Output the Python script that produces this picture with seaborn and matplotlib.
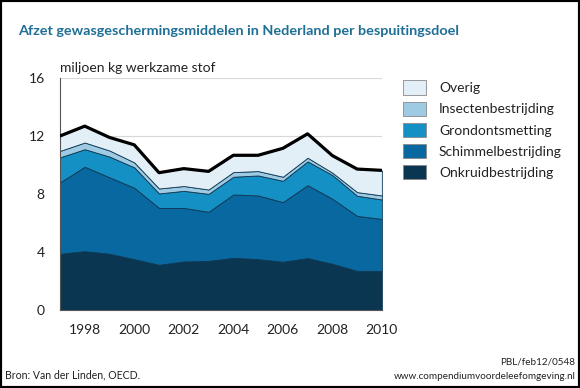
import numpy as np
import pandas as pd
import matplotlib.pyplot as plt
import seaborn as sns
from matplotlib.patches import Rectangle

years = list(range(1997, 2011))

# layer values in miljoen kg werkzame stof (read off the chart, not cumulative)
onkruid = [3.88, 4.06, 3.88, 3.51, 3.12, 3.35, 3.39, 3.60, 3.51, 3.33, 3.58, 3.19, 2.70, 2.70]
schimmel = [4.92, 5.82, 5.27, 4.92, 3.92, 3.69, 3.38, 4.37, 4.39, 4.11, 5.03, 4.48, 3.79, 3.58]
grond = [1.73, 1.21, 1.43, 1.41, 1.00, 1.18, 1.24, 1.22, 1.38, 1.47, 1.64, 1.64, 1.39, 1.34]
insecten = [0.44, 0.46, 0.42, 0.34, 0.34, 0.33, 0.30, 0.32, 0.30, 0.28, 0.25, 0.16, 0.25, 0.28]
overig = [1.03, 1.13, 0.90, 1.21, 1.09, 1.20, 1.25, 1.16, 1.09, 1.96, 1.65, 1.18, 1.59, 1.73]

labels = ['Onkruidbestrijding', 'Schimmelbestrijding', 'Grondontsmetting',
          'Insectenbestrijding', 'Overig']
colors = ['#0b3651', '#0a68a0', '#1590c4', '#9ecbe3', '#e2eff7']

df = pd.DataFrame({'jaar': years, 'Onkruidbestrijding': onkruid,
                   'Schimmelbestrijding': schimmel, 'Grondontsmetting': grond,
                   'Insectenbestrijding': insecten, 'Overig': overig})
df['totaal'] = df[labels].sum(axis=1)

sns.set_style('white')
plt.rcParams['font.family'] = ['Lato', 'DejaVu Sans']

fig = plt.figure(figsize=(5.8, 3.88), dpi=100)
ax = fig.add_axes([0.1034, 0.201, 0.555, 0.598])

for y in [4, 8, 12, 16]:
    ax.axhline(y, color='#d8d8d8', lw=0.8, zorder=0)

polys = ax.stackplot(df['jaar'], [df[c] for c in labels], colors=colors,
                     edgecolor='#0b3651', linewidth=0.6, zorder=2)
sns.lineplot(x=df['jaar'], y=df['totaal'], color='black', lw=2.3, ax=ax, zorder=3)

ax.set_xlim(1997, 2010)
ax.set_ylim(0, 16)
ax.set_yticks([0, 4, 8, 12, 16])
ax.set_yticks([2, 6, 10, 14], minor=True)
ax.set_xticks(range(1998, 2011, 2))
ax.set_xticks(years, minor=True)
ax.tick_params(axis='both', which='both', direction='out', color='#555555',
               labelsize=10, labelcolor='#222222')
ax.tick_params(axis='y', which='major', length=5, width=0.8, pad=6)
ax.tick_params(axis='y', which='minor', length=4, width=0.8)
ax.tick_params(axis='x', which='both', length=4, width=0.8, pad=6)
ax.set_xlabel('')
ax.set_ylabel('')
sns.despine(ax=ax)
ax.spines['left'].set_color('#555555')
ax.spines['bottom'].set_color('#555555')
ax.spines['left'].set_linewidth(0.8)
ax.spines['bottom'].set_linewidth(0.8)

fig.text(0.031, 0.920, 'Afzet gewasgeschermingsmiddelen in Nederland per bespuitingsdoel',
         fontsize=10.4, color='#1f6f96', weight='bold', va='center')
fig.text(0.103, 0.826, 'miljoen kg werkzame stof', fontsize=10, color='#222222', va='center')

# legend (top to bottom: Overig ... Onkruid)
handles = [Rectangle((0, 0), 1, 1, facecolor=c, edgecolor='#888888', lw=0.6)
           for c in colors[::-1]]
fig.legend(handles, labels[::-1], loc='upper left', bbox_to_anchor=(0.673, 0.825),
           frameon=False, fontsize=10, handlelength=1.7, handleheight=1.2,
           labelspacing=0.5, handletextpad=0.9, labelcolor='#222222')

fig.text(0.009, 0.033, 'Bron: Van der Linden, OECD.', fontsize=7.6, color='#222222', va='center')
fig.text(0.992, 0.067, 'PBL/feb12/0548', fontsize=7.1, color='#222222', ha='right', va='center')
fig.text(0.992, 0.030, 'www.compendiumvoordeleefomgeving.nl', fontsize=7.1, color='#222222',
         ha='right', va='center')

fig.patches.append(Rectangle((0, 0), 1, 1, transform=fig.transFigure, fill=False,
                             edgecolor='black', lw=3, zorder=10))

fig.savefig('out.png', dpi=100)
